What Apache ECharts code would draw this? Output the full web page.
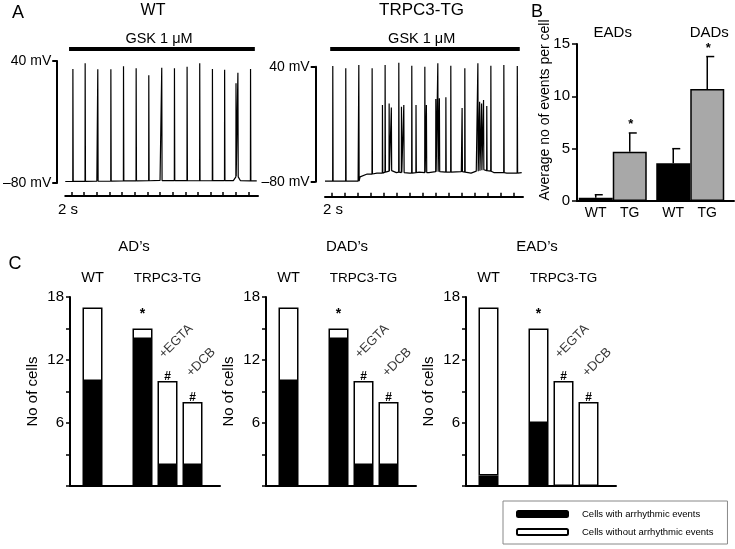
<!DOCTYPE html>
<html><head><meta charset="utf-8">
<script src="https://cdn.jsdelivr.net/npm/echarts@6/dist/echarts.min.js"></script>
<style>html,body{margin:0;padding:0;background:#fff}#c{width:735px;height:549px}</style>
</head><body><div id="c"></div>
<script>
// ================= DATA =================
// Panel A: time (s) / membrane potential (mV)
const aTimeTicks = [1,3,5,7,9,11,13,15,17,19,21,23,25,27,29];
const aVoltTicks = [-80, 40];
const gskWT = [0.6, 30.0];
const gskTG = [0.8, 30.0];

const wtBaseT = [0, 5, 10, 15, 20, 26.6, 27.05, 27.7, 30.3];
const wtBaseV = [-78.5, -78.3, -77.8, -77.5, -77.8, -77.6, -73, -77.6, -78];
const wtSpikeT    = [1.19, 3.13, 5.13, 7.2, 9.2, 11.2, 13.2, 15.25, 17.26, 19.26, 21.26, 23.27, 25.2, 27.0, 27.3, 29.3];
const wtSpikePeak = [32.1, 37.7, 31.8, 31.8, 34.8, 32.8, 25.9, 33.4, 32.8, 34.4, 37.7, 32.1, 31.5, 18.0, 28.5, 32.1];
const wtSpikeBase = [-78.4, -78.4, -78.3, -78.1, -78, -77.9, -77.8, -77.6, -77.6, -77.7, -77.8, -77.7, -77.6, -74, -74, -78];

const tgBaseT = [0, 5.1, 5.4, 6.5, 8, 9.5, 10.5, 11, 13, 14.5, 16, 17.5, 19, 21, 22.5, 23.3, 24, 25, 26, 28, 30.3];
const tgBaseV = [-79.5, -79.5, -75, -72, -71, -69, -68.5, -70.5, -71, -70, -70.5, -69.5, -70, -69.5, -71, -69, -67.5, -69, -70.5, -71, -70.5];
const tgSpikeT    = [1.18, 3.18, 5.19, 7.24, 8.83, 9.24, 9.86, 10.2, 11.35, 11.76, 12.12, 13.35, 14.0, 15.36, 15.6, 17.05, 17.36, 17.6, 18.6, 19.36, 21.1, 21.52, 23.53, 23.8, 24.1, 24.4, 24.9, 25.53, 27.53, 29.6];
const tgSpikePeak = [40.7, 38.3, 41.8, 38.3, 0, 41.8, 1.7, -2.5, 44.2, -1.7, 0, 41.1, 0, 40, 0, 6.3, 43.5, 7, 8, 41.1, -3, 38.3, 43.5, 3.5, 1.7, 5.2, -1, 41.1, 41.8, 40.7];
const tgSpikeBase = [-79.5, -79.5, -79.5, -72, -71, -70, -69, -68.5, -70, -70.5, -70.5, -71, -70.5, -70.5, -70.5, -69.5, -69.5, -69.5, -70, -70, -69.5, -70, -69, -68.5, -68, -67.5, -68.5, -69, -70.5, -71];

// Panel B: average number of events per cell
const bCats   = ['EADs', 'DADs'];
const bWT     = [0.3, 3.6];
const bTG     = [4.7, 10.7];
const bWTup   = [0.6, 5.0];
const bTGup   = [6.5, 13.8];
const bWTsig  = ['', ''];
const bTGsig  = ['*', '*'];

// Panel C: number of cells
const cTitles   = ['AD\u2019s', 'DAD\u2019s', 'EAD\u2019s'];
const cCats     = ['WT', '', 'TRPC3-TG', '+EGTA', '+DCB', ''];
const cTopLabel = ['WT', '', '', 'TRPC3-TG', '', ''];
const cRotLabel = ['', '', '', '+EGTA', '+DCB', ''];
const cMarks    = ['', '', '*', '#', '#', ''];
const adWith     = [10, null, 14, 2, 2, null];
const adWithout  = [7,  null, 1,  8, 6, null];
const dadWith    = [10, null, 14, 2, 2, null];
const dadWithout = [7,  null, 1,  8, 6, null];
const eadWith    = [1,  null, 6,  0, 0, null];
const eadWithout = [16, null, 9, 10, 8, null];
const cWith    = [adWith, dadWith, eadWith];
const cWithout = [adWithout, dadWithout, eadWithout];
const legendNames = ['Cells with arrhythmic events', 'Cells without arrhythmic events'];

// ================= CHART =================
const FONT = 'Liberation Sans, Arial, Helvetica, sans-serif';
const chart = echarts.init(document.getElementById('c'));

function buildTrace(baseT, baseV, spT, spPeak, spBase) {
  const pts = baseT.map((t, i) => [t, baseV[i]]);
  spT.forEach((t, i) => { pts.push([t, spBase[i]], [t + 0.02, spPeak[i]], [t + 0.07, spBase[i]]); });
  pts.sort((a, b) => a[0] - b[0]);
  return pts;
}

const grid = [], xAxis = [], yAxis = [], series = [];

// ---- Panel A ----
const traces = [
  {left: 60, top: 61, h: 122, yOff: 8, xOff: 13, data: buildTrace(wtBaseT, wtBaseV, wtSpikeT, wtSpikePeak, wtSpikeBase), gsk: gskWT, gskLevel: 51.8},
  {left: 325, top: 66.7, h: 115, yOff: 9.3, xOff: 15, data: buildTrace(tgBaseT, tgBaseV, tgSpikeT, tgSpikePeak, tgSpikeBase), gsk: gskTG, gskLevel: 58.5}
];
traces.forEach((tr) => {
  const gi = grid.length;
  grid.push({left: tr.left, top: tr.top, width: 198, height: tr.h});
  xAxis.push({type: 'value', gridIndex: gi, min: 0, max: 30.5, offset: tr.xOff,
    axisLine: {onZero: false, lineStyle: {color: '#000', width: 2}},
    axisTick: {inside: true, length: 4, customValues: aTimeTicks, lineStyle: {color: '#000', width: 1.5}},
    axisLabel: {show: false}, splitLine: {show: false}});
  yAxis.push({type: 'value', gridIndex: gi, min: -80, max: 40, offset: tr.yOff,
    axisLine: {show: true, onZero: false, lineStyle: {color: '#000', width: 2}},
    axisTick: {show: true, length: 5, customValues: aVoltTicks, lineStyle: {color: '#000', width: 2}},
    axisLabel: {customValues: aVoltTicks, margin: 6, color: '#000', fontSize: 14, fontFamily: FONT,
      formatter: v => (v < 0 ? '\u2013' + (-v) : v) + ' mV'},
    splitLine: {show: false}});
  series.push({type: 'line', xAxisIndex: gi, yAxisIndex: gi, data: tr.data, showSymbol: false, symbol: 'none',
    clip: false, silent: true, lineStyle: {color: '#000', width: 1.2, join: 'bevel'}});
});

// ---- Panel B ----
const BW = 34;
const gBA = grid.length;                 // axis frame
grid.push({left: 577, top: 44, width: 157, height: 157});
xAxis.push({type: 'value', gridIndex: gBA, min: 0, max: 1,
  axisLine: {show: true, onZero: false, lineStyle: {color: '#000', width: 2}}, axisTick: {show: false}, axisLabel: {show: false}, splitLine: {show: false}});
yAxis.push({type: 'value', gridIndex: gBA, min: 0, max: 15, interval: 5,
  axisLine: {show: true, lineStyle: {color: '#000', width: 2}},
  axisTick: {show: true, length: 5, lineStyle: {color: '#000', width: 1.5}},
  axisLabel: {margin: 7, color: '#000', fontSize: 15, fontFamily: FONT}, splitLine: {show: false}});
const gB = grid.length;                  // bars
grid.push({left: 574, top: 44, width: 155, height: 157});
const xB = xAxis.length;
xAxis.push({type: 'category', gridIndex: gB, data: bCats,
  axisLine: {show: false}, axisTick: {show: false}, axisLabel: {show: false}});
xAxis.push({type: 'category', gridIndex: gB, position: 'top',
  data: [{value: bCats[0]}, {value: bCats[1], textStyle: {padding: [0, 0, 0, 38]}}],
  axisLine: {show: false}, axisTick: {show: false},
  axisLabel: {margin: 4, color: '#000', fontSize: 15, fontFamily: FONT}});
yAxis.push({type: 'value', gridIndex: gB, min: 0, max: 15, show: false});
const yB = yAxis.length - 1;
const bLabel = {show: true, position: 'bottom', distance: 5, formatter: '{a}', color: '#000', fontSize: 14, fontFamily: FONT};
series.push({type: 'bar', name: 'WT', xAxisIndex: xB, yAxisIndex: yB, data: bWT, barWidth: BW, barGap: '0%',
  itemStyle: {color: '#000', borderColor: '#000', borderWidth: 1.5}, label: bLabel, silent: true});
series.push({type: 'bar', name: 'TG', xAxisIndex: xB, yAxisIndex: yB, data: bTG, barWidth: BW, barGap: '0%',
  itemStyle: {color: '#a8a8a8', borderColor: '#000', borderWidth: 1.5}, label: bLabel, silent: true});
const errData = [], errSig = [];
bCats.forEach((c, i) => {
  errData.push([i, bWT[i], bWTup[i], -1]); errSig.push(bWTsig[i]);
  errData.push([i, bTG[i], bTGup[i], 1]);  errSig.push(bTGsig[i]);
});
series.push({type: 'custom', xAxisIndex: xB, yAxisIndex: yB, data: errData, silent: true, z: 5,
  renderItem: (params, api) => {
    const ci = api.value(0), m = api.value(1), u = api.value(2), side = api.value(3);
    const p0 = api.coord([ci, m]), p1 = api.coord([ci, u]);
    const x = p0[0] + side * BW / 2;
    return {type: 'group', children: [
      {type: 'line', shape: {x1: x, y1: p0[1], x2: x, y2: p1[1]}, style: {stroke: '#000', lineWidth: 1.5}},
      {type: 'line', shape: {x1: x - 1, y1: p1[1], x2: x + 7, y2: p1[1]}, style: {stroke: '#000', lineWidth: 1.5}},
      {type: 'text', x: x + 1, y: p1[1] - 2, style: {text: errSig[params.dataIndex], textAlign: 'center',
        textVerticalAlign: 'bottom', font: 'bold 13px ' + FONT, fill: '#000'}}
    ]};
  }});

// ---- Panel C ----
const cX0 = [70, 266, 466];
cX0.forEach((x0, p) => {
  const gA = grid.length;
  grid.push({left: x0, top: 297, width: 150, height: 189});
  xAxis.push({type: 'value', gridIndex: gA, min: 0, max: 1,
    axisLine: {show: true, onZero: false, lineStyle: {color: '#000', width: 2}}, axisTick: {show: false}, axisLabel: {show: false}, splitLine: {show: false}});
  yAxis.push({type: 'value', gridIndex: gA, min: 0, max: 18, interval: 3,
    name: 'No of cells', nameLocation: 'middle', nameGap: 30, nameRotate: 90,
    nameTextStyle: {color: '#000', fontSize: 15, fontFamily: FONT},
    axisLine: {show: true, lineStyle: {color: '#000', width: 2}},
    axisTick: {show: true, length: 4, lineStyle: {color: '#000', width: 1.5}},
    axisLabel: {margin: 6, color: '#000', fontSize: 15, fontFamily: FONT,
      formatter: v => (v > 0 && v % 6 === 0) ? String(v) : ''},
    splitLine: {show: false}});
  const gBar = grid.length;
  grid.push({left: x0 + 10, top: 297, width: 150, height: 189});
  const xi = xAxis.length;
  xAxis.push({type: 'category', gridIndex: gBar, data: cCats,
    axisLine: {show: false}, axisTick: {show: false}, axisLabel: {show: false}});
  xAxis.push({type: 'category', gridIndex: gBar, position: 'top',
    data: cTopLabel.map(s => s === 'TRPC3-TG' ? {value: s, textStyle: {fontSize: 13.5}} : s),
    axisLine: {show: false}, axisTick: {show: false},
    axisLabel: {interval: 0, margin: 12, color: '#000', fontSize: 14.5, fontFamily: FONT}});
  yAxis.push({type: 'value', gridIndex: gBar, min: 0, max: 18, show: false});
  const yi = yAxis.length - 1;
  series.push({type: 'bar', name: legendNames[0], stack: 's' + p, xAxisIndex: xi, yAxisIndex: yi,
    data: cWith[p], barWidth: 20, silent: true,
    itemStyle: {color: '#000', borderColor: '#000', borderWidth: 1.5}});
  series.push({type: 'bar', name: legendNames[1], stack: 's' + p, xAxisIndex: xi, yAxisIndex: yi,
    data: cWithout[p], barWidth: 20, silent: true,
    itemStyle: {color: '#fff', borderColor: '#000', borderWidth: 1.5},
    label: {show: true, position: 'top', distance: -2, color: '#000', fontFamily: FONT,
      formatter: prm => cMarks[prm.dataIndex] === '*' ? '{s|*}' : (cMarks[prm.dataIndex] ? '{h|#}' : ''),
      rich: {s: {fontSize: 14, fontWeight: 'bold', padding: [0, 0, 9, 0]}, h: {fontSize: 12, fontWeight: 'bold'}}}});
  const totals = cWith[p].map((v, i) => v === null ? null : v + cWithout[p][i]);
  series.push({type: 'scatter', xAxisIndex: xi, yAxisIndex: yi, data: totals, symbolSize: 0, silent: true,
    label: {show: true, position: 'inside', rotate: 45, offset: [34, -22], color: '#000', fontSize: 13, fontFamily: FONT,
      formatter: prm => cRotLabel[prm.dataIndex]}});
});

// ---- Texts ----
const txt = (x, y, s, size, extra) => Object.assign({type: 'text', x: x, y: y, silent: true,
  style: {text: s, font: size + 'px ' + FONT, fill: '#000', textAlign: 'center', textVerticalAlign: 'middle'}}, extra || {});
const graphic = [
  txt(18, 13, 'A', 18), txt(153, 11, 'WT', 16), txt(421.5, 10, 'TRPC3-TG', 17),
  txt(159, 39, 'GSK 1 \u03bcM', 14.5), txt(421.7, 39, 'GSK 1 \u03bcM', 14.5),
  txt(68, 210, '2 s', 15), txt(333, 210, '2 s', 15),
  txt(537, 12, 'B', 18),
  txt(545, 110, 'Average no of events per cell', 14, {rotation: Math.PI / 2}),
  txt(15, 264, 'C', 18),
  txt(134, 247, cTitles[0], 15), txt(347, 247, cTitles[1], 15), txt(537, 247, cTitles[2], 15)
];

chart.setOption({
  animation: false,
  grid: grid, xAxis: xAxis, yAxis: yAxis, series: series, graphic: graphic,
  legend: {data: legendNames, orient: 'vertical', left: 503, top: 501, itemWidth: 51, itemHeight: 6, itemGap: 8,
    padding: [8, 14, 7, 13], borderColor: '#888', borderWidth: 1, selectedMode: false,
    textStyle: {color: '#000', fontSize: 9.5, fontFamily: FONT, padding: [0, 0, 0, 9]}}
});

// GSK application bars, placed through the trace axes
const gskBars = traces.map((tr, k) => {
  const a = chart.convertToPixel({gridIndex: k}, [tr.gsk[0], tr.gskLevel]);
  const b = chart.convertToPixel({gridIndex: k}, [tr.gsk[1], tr.gskLevel]);
  return {type: 'line', silent: true, shape: {x1: a[0], y1: a[1], x2: b[0], y2: b[1]}, style: {stroke: '#000', lineWidth: 4}};
});
chart.setOption({graphic: graphic.concat(gskBars)});
</script></body></html>
